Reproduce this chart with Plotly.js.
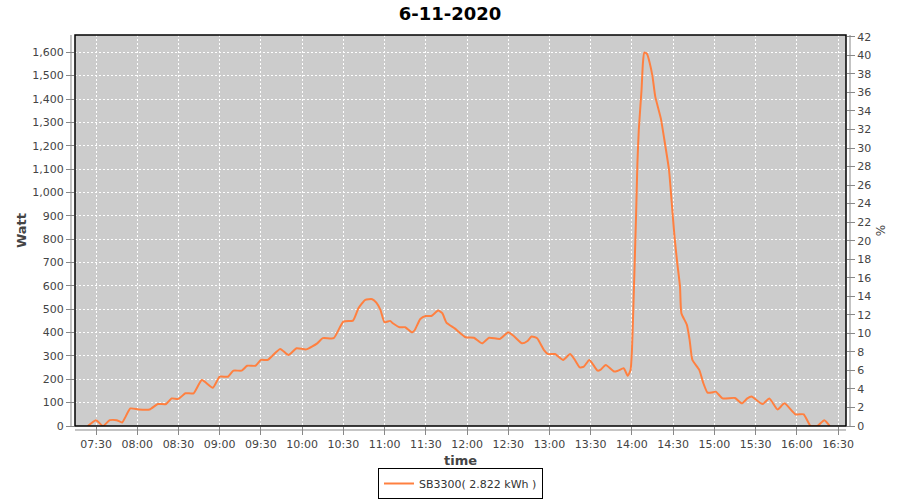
<!DOCTYPE html>
<html>
<head>
<meta charset="utf-8">
<script src="https://cdn.plot.ly/plotly-3.0.1.min.js"></script>
<style>html,body{margin:0;padding:0;background:#fff}#chart{width:900px;height:500px}</style>
</head>
<body>
<div id="chart"></div>
<script>
const day = '2020-06-11';
const times = ['07:24','07:30','07:35','07:40','07:45','07:49','07:51','07:55','08:01','08:09','08:15','08:21','08:25','08:30','08:35','08:41','08:47','08:55','09:00','09:06','09:10','09:16','09:20','09:26','09:30','09:35','09:44','09:50','09:56','10:03','10:11','10:15','10:23','10:30','10:37','10:41','10:46','10:51','10:54','10:57','11:00','11:04','11:06','11:11','11:15','11:20','11:22','11:26','11:30','11:34','11:39','11:42','11:45','11:51','11:59','12:05','12:11','12:16','12:24','12:30','12:34','12:40','12:44','12:47','12:51','12:56','12:59','13:04','13:10','13:15','13:18','13:22','13:25','13:29','13:35','13:37','13:41','13:47','13:50','13:54','13:57','13:59','14:00','14:01','14:02','14:03','14:04','14:05','14:07','14:08','14:09','14:11','14:13','14:15','14:17','14:21','14:24','14:27','14:29','14:31','14:33','14:35','14:36','14:40','14:42','14:44','14:49','14:52','14:55','14:58','15:01','15:06','15:15','15:20','15:24','15:27','15:35','15:40','15:46','15:51','15:59','16:05','16:10','16:15','16:20','16:24'];
const watts = [0,25,0,25,25,15,34,75,71,71,94,94,118,116,140,140,197,164,211,211,237,237,258,258,283,283,330,304,333,328,354,376,376,447,451,504,540,543,528,497,444,450,440,423,423,401,411,458,471,471,494,483,443,418,380,378,354,378,373,401,385,354,364,383,376,325,308,308,283,308,287,251,254,283,237,240,261,233,237,247,215,240,320,497,697,896,1125,1268,1439,1553,1599,1593,1553,1496,1410,1318,1211,1096,954,811,697,597,483,433,368,283,240,183,143,143,147,118,120,97,118,126,94,118,71,97,50,50,0,0,25,0];
const seriesName = 'SB3300( 2.822 kWh )';
const chartTitle = '6-11-2020';

const xs = times.map(t => day + ' ' + t);
const tickFont = {family: 'DejaVu Sans', size: 11, color: '#444'};
const titleFont = {family: 'DejaVu Sans', size: 13, color: '#444', weight: 'bold'};

const data = [
  {x: xs, y: watts, type: 'scatter', mode: 'lines', name: seriesName,
   line: {color: '#ff8040', width: 2, shape: 'spline', smoothing: 0.5}, hoverinfo: 'x+y'},
  {x: [], y: [], yaxis: 'y2', type: 'scatter', mode: 'lines', showlegend: false, hoverinfo: 'skip'}
];

const layout = {
  width: 900, height: 500,
  margin: {l: 75, r: 54, t: 35, b: 74},
  paper_bgcolor: '#ffffff', plot_bgcolor: '#cccccc',
  title: {text: '<b>' + chartTitle + '</b>', font: {family: 'DejaVu Sans', size: 18, color: '#000'}, x: 0.5, xanchor: 'center', y: 0.972, yanchor: 'middle'},
  xaxis: {type: 'date', range: [day + ' 07:14:42', day + ' 16:35:48'], tick0: day + ' 07:30', dtick: 1800000,
    tickformat: '%H:%M', tickfont: tickFont, ticks: 'outside', ticklen: 8, tickcolor: '#888',
    showgrid: true, gridcolor: '#ffffff', griddash: '2px,2px', gridwidth: 1, zeroline: false, showline: false,
    title: {text: 'time', font: titleFont, standoff: 6}, automargin: false},
  yaxis: {range: [0, 1674], dtick: 100, tick0: 0, tickformat: ',d', tickfont: tickFont, ticks: 'outside', ticklen: 8, tickcolor: '#888',
    showgrid: true, gridcolor: '#ffffff', griddash: '2px,2px', gridwidth: 1, zeroline: false, showline: false,
    title: {text: 'Watt', font: titleFont, standoff: 2}, automargin: false},
  yaxis2: {range: [0, 42.2], dtick: 2, tick0: 0, overlaying: 'y', side: 'right', tickfont: {family: 'DejaVu Sans', size: 11, color: '#444'},
    ticks: 'outside', ticklen: 8, tickcolor: '#888', showgrid: false, zeroline: false, showline: false,
    title: {text: '%', font: {family: 'DejaVu Sans', size: 12, color: '#444'}, standoff: 6}, automargin: false},
  showlegend: true,
  legend: {orientation: 'h', x: 0.5, xanchor: 'center', xref: 'paper', yref: 'container', y: 0.002, yanchor: 'bottom', bordercolor: '#000', borderwidth: 1,
    font: {family: 'DejaVu Sans', size: 11, color: '#333'}, itemwidth: 30, bgcolor: '#fff'},
  shapes: [
    {type: 'rect', xref: 'paper', yref: 'paper', x0: 0, x1: 1, y0: 0, y1: 1, line: {color: '#000', width: 1.5}, fillcolor: 'rgba(0,0,0,0)', layer: 'above'},
    {type: 'line', xref: 'paper', yref: 'paper', x0: -0.0052, x1: -0.0052, y0: 0, y1: 1, line: {color: '#888', width: 1}},
    {type: 'line', xref: 'paper', yref: 'paper', x0: 1.0052, x1: 1.0052, y0: 0, y1: 1, line: {color: '#888', width: 1}},
    {type: 'line', xref: 'paper', yref: 'paper', x0: 0, x1: 1, y0: -0.0102, y1: -0.0102, line: {color: '#888', width: 1}}
  ]
};

Plotly.newPlot('chart', data, layout, {displayModeBar: false, staticPlot: true});
</script>
</body>
</html>
